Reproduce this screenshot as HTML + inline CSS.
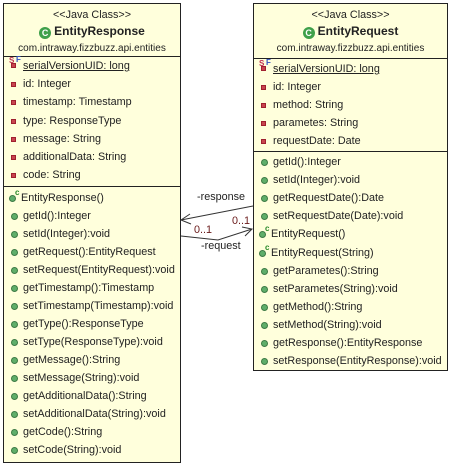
<!DOCTYPE html><html><head><style>
body{margin:0;width:452px;height:465px;background:#fff;position:relative;font-family:"Liberation Sans",sans-serif;font-size:10.8px;color:#222;overflow:hidden}
.box{position:absolute;background:#ffffdc;border:1px solid #222;box-sizing:border-box}
.t{position:absolute;white-space:nowrap;line-height:12px}
.sep{position:absolute;left:0;right:0;border-top:1px solid #222}
.a{position:absolute;width:5px;height:5px;background:#c8454f;border:1px solid #a02030;box-sizing:border-box}
.m{position:absolute;width:7px;height:7px;border-radius:50%;background:#5fae6a;border:1px solid #3d7a45;box-sizing:border-box}
.c{position:absolute;font-size:8px;color:#2a8a2a;font-weight:bold}
.hc{display:inline-block;width:12px;height:12px;border-radius:50%;background:#3fa04a;color:#fff;font-size:9px;line-height:12px;text-align:center;font-weight:bold;vertical-align:-1px;margin-right:3px}
</style></head><body>
<div class="box" style="left:3px;top:3px;width:178px;height:460px">
<div class="t" style="left:0;right:0;text-align:center;top:5px">&lt;&lt;Java Class&gt;&gt;</div>
<div class="t" style="left:0;right:0;text-align:center;top:21px;font-size:12px;font-weight:bold"><span class="hc">C</span>EntityResponse</div>
<div class="t" style="left:0;right:0;text-align:center;top:39px;font-size:10px">com.intraway.fizzbuzz.api.entities</div>
<div class="sep" style="top:52px"></div>
<div class="sep" style="top:182px"></div>
</div>
<div class="box" style="left:253px;top:3px;width:195px;height:368px">
<div class="t" style="left:0;right:0;text-align:center;top:5px">&lt;&lt;Java Class&gt;&gt;</div>
<div class="t" style="left:0;right:0;text-align:center;top:21px;font-size:12px;font-weight:bold"><span class="hc">C</span>EntityRequest</div>
<div class="t" style="left:0;right:0;text-align:center;top:39px;font-size:10px">com.intraway.fizzbuzz.api.entities</div>
<div class="sep" style="top:54px"></div>
<div class="sep" style="top:147px"></div>
</div>
<div id="L"></div>
<svg style="position:absolute;left:0;top:0" width="452" height="465">
<polyline points="253,206 181,220" fill="none" stroke="#333"/>
<polyline points="190,214 181,220 191,224" fill="none" stroke="#333"/>
<polyline points="181,236 218,240 252,229" fill="none" stroke="#333"/>
<polyline points="242,227 252,229 245,236" fill="none" stroke="#333"/>
</svg>
<div class="t" style="left:197px;top:191px">-response</div>
<div class="t" style="left:194px;top:224px;color:#6a1a1a">0..1</div>
<div class="t" style="left:232px;top:215px;color:#6a1a1a">0..1</div>
<div class="t" style="left:201px;top:240px">-request</div>
<script>
function rows(x,y0,step,items){let h='';items.forEach((s,i)=>{let y=y0+i*step;let k=s[0],t=s.slice(1);
if(k=='s'){h+=`<div class="c" style="left:${x-14}px;top:${y-4}px;color:#c03050">S</div><div class="a" style="left:${x-12}px;top:${y+3}px"></div><div class="c" style="left:${x-7}px;top:${y-5}px;color:#3050c0">F</div><div class="t" style="left:${x}px;top:${y}px;text-decoration:underline">${t}</div>`}
else if(k=='a'){h+=`<div class="a" style="left:${x-12}px;top:${y+4}px"></div><div class="t" style="left:${x}px;top:${y}px">${t}</div>`}
else if(k=='m'){h+=`<div class="m" style="left:${x-12}px;top:${y+3}px"></div><div class="t" style="left:${x}px;top:${y}px">${t}</div>`}
else{h+=`<div class="m" style="left:${x-14}px;top:${y+3}px"></div><div class="c" style="left:${x-8}px;top:${y-4}px">c</div><div class="t" style="left:${x-2}px;top:${y}px">${t}</div>`}});return h}
document.getElementById('L').innerHTML=
rows(23,60,18.2,['sserialVersionUID: long','aid: Integer','atimestamp: Timestamp','atype: ResponseType','amessage: String','aadditionalData: String','acode: String'])+
rows(23,192,18.02,['cEntityResponse()','mgetId():Integer','msetId(Integer):void','mgetRequest():EntityRequest','msetRequest(EntityRequest):void','mgetTimestamp():Timestamp','msetTimestamp(Timestamp):void','mgetType():ResponseType','msetType(ResponseType):void','mgetMessage():String','msetMessage(String):void','mgetAdditionalData():String','msetAdditionalData(String):void','mgetCode():String','msetCode(String):void'])+
rows(273,63,18,['sserialVersionUID: long','aid: Integer','amethod: String','aparametes: String','arequestDate: Date'])+
rows(273,156,18.1,['mgetId():Integer','msetId(Integer):void','mgetRequestDate():Date','msetRequestDate(Date):void','cEntityRequest()','cEntityRequest(String)','mgetParametes():String','msetParametes(String):void','mgetMethod():String','msetMethod(String):void','mgetResponse():EntityResponse','msetResponse(EntityResponse):void']);
</script>
</body></html>
